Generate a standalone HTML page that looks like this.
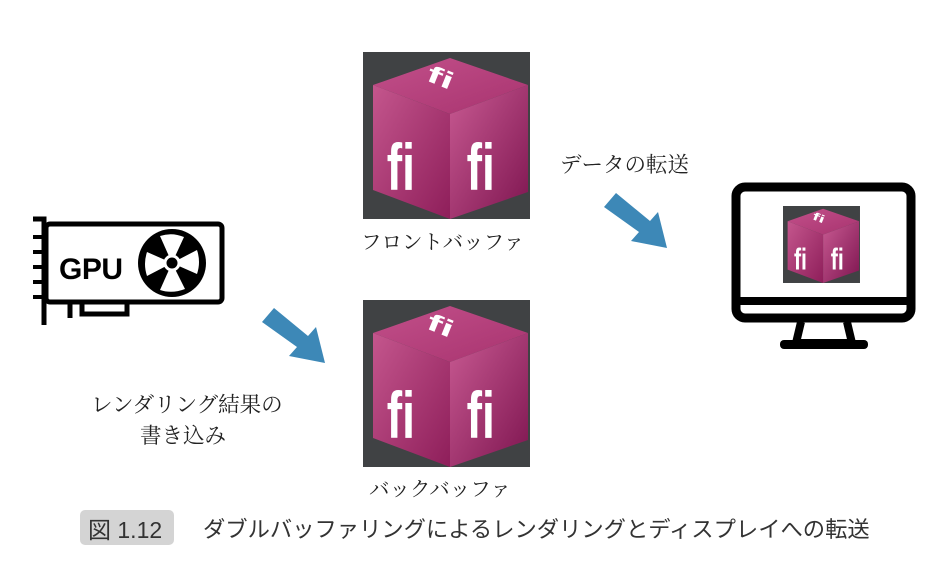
<!DOCTYPE html>
<html><head><meta charset="utf-8"><style>
body{margin:0;background:#fff;width:945px;height:571px;overflow:hidden;position:relative;font-family:"Liberation Serif","Noto Serif CJK SC",serif}
.t{position:absolute;font-size:21.5px;color:#222;white-space:nowrap}
</style></head><body>
<svg width="945" height="571" style="position:absolute;left:0;top:0">
<defs>
<linearGradient id="gt" x1="0" y1="0" x2="1" y2="1"><stop offset="0" stop-color="#c2508a"/><stop offset="1" stop-color="#a8336f"/></linearGradient>
<linearGradient id="gl" x1="0" y1="0" x2="1" y2="1"><stop offset="0" stop-color="#c4568d"/><stop offset="1" stop-color="#8e1e5a"/></linearGradient>
<linearGradient id="gr" x1="0" y1="0" x2="1" y2="1"><stop offset="0" stop-color="#c85a92"/><stop offset="1" stop-color="#7e1550"/></linearGradient>
<g id="cube">
<rect width="167" height="167" fill="#404244"/>
<polygon points="10,33 87,6 165,33 87,62" fill="url(#gt)"/>
<polygon points="10,33 87,62 87,167 10,138" fill="url(#gl)"/>
<polygon points="87,62 165,33 165,140 87,167" fill="url(#gr)"/>
<text x="34" y="138" font-family="Liberation Sans,sans-serif" font-size="66" font-weight="bold" fill="#fff" transform="scale(0.7,1)">fi</text>
<text x="148" y="138" font-family="Liberation Sans,sans-serif" font-size="66" font-weight="bold" fill="#fff" transform="scale(0.7,1)">fi</text>
<text x="0" y="0" font-family="Liberation Sans,sans-serif" font-size="40" font-weight="bold" fill="#fff" transform="translate(62,28) rotate(22) scale(1.1,0.6)">fi</text>
</g>
</defs>
<use href="#cube" x="363" y="52"/>
<use href="#cube" x="363" y="300"/>
<use href="#cube" transform="translate(783,206) scale(0.461)"/>
<g fill="none" stroke="#000" stroke-width="5">
<path d="M33 219 H44 V325"/>
<rect x="46" y="224" width="176" height="78" rx="4"/>
<path d="M82 302 V314 H127 V302"/>
<path d="M70 302 V318"/>
</g>
<g fill="#000"><rect x="33" y="235" width="10" height="4"/><rect x="33" y="250" width="10" height="4"/><rect x="33" y="265" width="10" height="4"/><rect x="33" y="280" width="10" height="4"/><rect x="33" y="295" width="10" height="4"/></g>
<text x="59" y="279" font-family="Liberation Sans,sans-serif" font-weight="bold" font-size="30" fill="#000" textLength="64">GPU</text>
<circle cx="172" cy="263" r="34" fill="#000"/>
<g fill="#fff">
<path d="M172 263 L160 236 Q172 232 184 237 Z"/>
<path d="M172 263 L197 250 Q201 262 197 274 Z"/>
<path d="M172 263 L185 289 Q172 294 160 290 Z"/>
<path d="M172 263 L147 276 Q143 264 147 252 Z"/>
</g>
<circle cx="172" cy="263" r="7" fill="#000" stroke="#fff" stroke-width="3"/>
<rect x="736" y="187" width="175" height="131" rx="9" fill="none" stroke="#000" stroke-width="9"/>
<rect x="736" y="297" width="175" height="8" fill="#000"/>
<path d="M801 322 L796 343 H852 L847 322" fill="none" stroke="#000" stroke-width="8"/>
<rect x="780" y="340" width="88" height="9" rx="4" fill="#000"/>
<g fill="#3d88b7">
<polygon points="262,322 274,308 308,336 316,327 325,363 289,356 297,347"/>
<polygon points="604,207 616,193 650,221 658,212 667,248 631,241 639,232"/>
</g>
<rect x="80" y="510" width="94" height="35" rx="5" fill="#d4d4d4"/>
</svg>
<div class="t" style="left:361px;top:225px;font-size:20.5px">フロントバッファ</div>
<div class="t" style="left:369px;top:472px;font-size:20.5px">バックバッファ</div>
<div class="t" style="left:560px;top:148px">データの転送</div>
<div class="t" style="left:91px;top:388px">レンダリング結果の</div>
<div class="t" style="left:140px;top:419px">書き込み</div>
<div class="t" style="left:88px;top:511px;font-family:'Liberation Sans','Noto Sans CJK JP',sans-serif;font-size:23px;color:#333">図 1.12</div>
<div class="t" style="left:203px;top:512px;font-family:'Liberation Sans','Noto Sans CJK JP',sans-serif;font-size:22.3px;color:#333">ダブルバッファリングによるレンダリングとディスプレイへの転送</div>
</body></html>
